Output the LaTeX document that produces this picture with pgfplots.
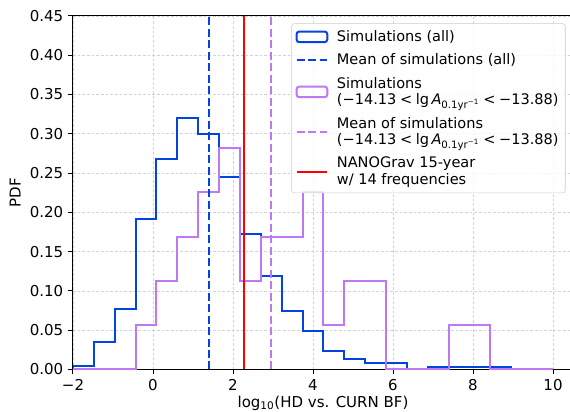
\documentclass[border=0pt]{standalone}
\usepackage{fontspec}
\setmainfont{DejaVu Sans}
\usepackage{pgfplots}
\pgfplotsset{compat=1.18}
\definecolor{simblue}{HTML}{0343DF}
\definecolor{simpurple}{HTML}{BF77F6}
\definecolor{ngred}{HTML}{FF0000}
% handles 23pt long, with a blank 4.5pt after them before the text
\pgfplotsset{
  histleg/.style={legend image code/.code={\draw[##1] (0pt,-4pt) rectangle (23pt,4pt); \path (27.5pt,0pt);}},
  lineleg/.style={legend image code/.code={\draw[##1] (0pt,0pt) -- (23pt,0pt); \path (27.5pt,0pt);}},
}
\newcommand{\lt}{\hspace{0.25em}<\hspace{0.25em}}
\newcommand{\ampl}{(−14.13\lt lg\,\textit{A}\textsubscript{0.1yr\textsuperscript{−1}}\lt −13.88)}
\begin{document}
\begin{tikzpicture}[font=\fontsize{11.25}{12.75}\selectfont]
\begin{axis}[
  scale only axis, width=375pt, height=265.1pt,
  xmin=-2, xmax=10.5, ymin=0, ymax=0.45,
  xtick={-2,0,2,4,6,8,10}, xticklabels={−2,0,2,4,6,8,10},
  ytick={0,0.05,0.1,0.15,0.2,0.25,0.3,0.35,0.4,0.45},
  yticklabels={0.00,0.05,0.10,0.15,0.20,0.25,0.30,0.35,0.40,0.45},
  xtick pos=left, ytick pos=left, tick align=outside,
  major tick length=3.75pt,
  tick style={black, line width=0.75pt},
  axis line style={line width=0.75pt},
  grid=major,
  grid style={gray!35, line width=0.5pt, dash pattern=on 2pt off 1.5pt},
  xlabel={log\textsubscript{10}(HD vs. CURN BF)},
  xlabel style={yshift=3pt},
  ylabel={PDF},
  legend style={at={(0.985,0.979)}, anchor=north east, draw=black!20,
    rounded corners=2pt, fill=white, fill opacity=0.8, text opacity=1,
    font=\fontsize{10.9}{12.4}\selectfont, inner sep=3pt, row sep=3.75pt,
    cells={anchor=west, align=left, inner xsep=3pt, inner ysep=2.5pt}},
]
% legend first, plots after, so that the histograms stay under the lines
\addlegendimage{simblue, line width=1.5pt, histleg}
\addlegendentry{Simulations (all)}
\addlegendimage{simblue, line width=1.5pt, dash pattern=on 6pt off 2.6pt, lineleg}
\addlegendentry{Mean of simulations (all)}
\addlegendimage{simpurple, line width=1.5pt, histleg}
\addlegendentry{Simulations\\\ampl}
\addlegendimage{simpurple, line width=1.5pt, dash pattern=on 6pt off 2.6pt, lineleg}
\addlegendentry{Mean of simulations\\\ampl}
\addlegendimage{ngred, line width=1.5pt, lineleg}
\addlegendentry{NANOGrav 15-year\\w/ 14 frequencies}

\addplot[forget plot, simblue, line width=1.5pt, const plot] coordinates {
  (-2,0) (-2,0.005) (-1.478,0.035) (-0.957,0.077) (-0.435,0.191) (0.087,0.268)
  (0.609,0.320) (1.130,0.300) (1.652,0.245) (2.174,0.173) (2.696,0.119)
  (3.217,0.074) (3.739,0.049) (4.261,0.023) (4.783,0.013) (5.304,0.008)
  (5.826,0.008) (6.348,0) (6.870,0.003) (7.391,0.003) (7.913,0.003)
  (8.435,0.003) (8.957,0.003) (8.957,0)};
\addplot[forget plot, simpurple, line width=1.5pt, const plot] coordinates {
  (-2,0) (-0.435,0.0563) (0.087,0.1127) (0.609,0.169) (1.130,0.2253)
  (1.652,0.2817) (2.174,0.1127) (2.696,0.169) (3.739,0.2253) (4.261,0.0563)
  (4.783,0.1127) (5.826,0) (7.391,0.0563) (8.435,0) (10,0)};
\addplot[forget plot, simblue, line width=1.5pt, dash pattern=on 6pt off 2.6pt]
  coordinates {(1.40,0) (1.40,0.45)};
\addplot[forget plot, simpurple, line width=1.5pt, dash pattern=on 6pt off 2.6pt]
  coordinates {(2.94,0) (2.94,0.45)};
\addplot[forget plot, ngred, line width=1.5pt]
  coordinates {(2.28,0) (2.28,0.45)};
\end{axis}
\pgfresetboundingbox
\path ([shift={(-54.75pt,-31.875pt)}]current axis.south west)
  rectangle ([shift={(372.75pt,12pt)}]current axis.north west);
\end{tikzpicture}
\end{document}
